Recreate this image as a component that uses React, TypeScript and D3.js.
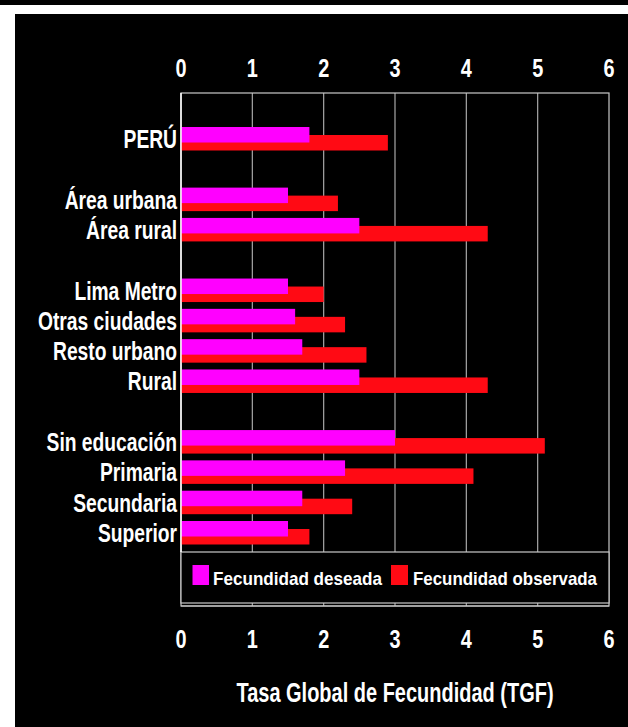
import React from "react";
import * as d3 from "d3";

const categories = [
  "PERÚ",
  "Área urbana",
  "Área rural",
  "Lima Metro",
  "Otras ciudades",
  "Resto urbano",
  "Rural",
  "Sin educación",
  "Primaria",
  "Secundaria",
  "Superior",
];
// slot index for each category (gaps between groups)
const slots = [0, 2, 3, 5, 6, 7, 8, 10, 11, 12, 13];
const deseada = [1.8, 1.5, 2.5, 1.5, 1.6, 1.7, 2.5, 3.0, 2.3, 1.7, 1.5];
const observada = [2.9, 2.2, 4.3, 2.0, 2.3, 2.6, 4.3, 5.1, 4.1, 2.4, 1.8];
const ticks = [0, 1, 2, 3, 4, 5, 6];
const seriesNames = ["Fecundidad deseada", "Fecundidad observada"];
const axisTitle = "Tasa Global de Fecundidad (TGF)";

const W = 628;
const H = 727;
const FONT = "'Liberation Sans', Arial, sans-serif";

function Narrow({
  x,
  y,
  anchor,
  size,
  sx,
  children,
}: {
  x: number;
  y: number;
  anchor: string;
  size: number;
  sx: number;
  children: React.ReactNode;
}) {
  return (
    <text
      transform={`translate(${x},${y}) scale(${sx},1)`}
      textAnchor={anchor}
      fill="#ffffff"
      fontFamily={FONT}
      fontWeight="bold"
      fontSize={size}
    >
      {children}
    </text>
  );
}

export default function App() {
  const x = d3.scaleLinear().domain([0, 6]).range([181, 609]);
  const y = d3.scaleLinear().domain([0, 13]).range([127, 521]);
  const plotTop = 93;
  const legendTop = 552;
  const legendBottom = 603;
  const plotBottom = 606;
  const barH = 15.5;
  const offset = 8;
  const magenta = "#ff00ff";
  const red = "#ff0a14";

  return (
    <svg
      width={W}
      height={H}
      style={{ position: "absolute", left: 0, top: 0 }}
      xmlns="http://www.w3.org/2000/svg"
    >
      <rect x={0} y={0} width={W} height={H} fill="#ffffff" />
      <rect x={0} y={0} width={W} height={5} fill="#000000" />
      <rect x={15} y={14} width={W - 15} height={H - 14} fill="#000000" />

      {/* grid */}
      {ticks.slice(1, -1).map((t) => (
        <line
          key={"g" + t}
          x1={x(t)}
          x2={x(t)}
          y1={plotTop}
          y2={plotBottom}
          stroke="#a8a8a8"
          strokeWidth={1.2}
        />
      ))}
      {/* plot border */}
      <rect
        x={x(0)}
        y={plotTop}
        width={x(6) - x(0)}
        height={plotBottom - plotTop}
        fill="none"
        stroke="#c8c8c8"
        strokeWidth={1.2}
      />

      {/* bars */}
      {categories.map((c, i) => {
        const top = y(slots[i]);
        return (
          <g key={c}>
            <rect
              x={x(0)}
              y={top + offset}
              width={x(observada[i]) - x(0)}
              height={barH}
              fill={red}
            />
            <rect
              x={x(0)}
              y={top}
              width={x(deseada[i]) - x(0)}
              height={barH}
              fill={magenta}
            />
            <Narrow x={177} y={top + 21} anchor="end" size={25} sx={0.77}>
              {c}
            </Narrow>
          </g>
        );
      })}

      {/* legend */}
      <rect
        x={x(0)}
        y={legendTop}
        width={x(6) - x(0)}
        height={legendBottom - legendTop}
        fill="#000000"
        stroke="#c8c8c8"
        strokeWidth={1.2}
      />
      <line x1={x(0)} x2={x(6)} y1={plotBottom} y2={plotBottom} stroke="#c8c8c8" strokeWidth={1.2} />
      <rect x={192.5} y={565} width={16.5} height={20} fill={magenta} />
      <text
        x={213}
        y={585}
        fill="#ffffff"
        fontFamily={FONT}
        fontWeight="bold"
        fontSize={18.5}
        textLength={169}
        lengthAdjust="spacingAndGlyphs"
      >
        {seriesNames[0]}
      </text>
      <rect x={391} y={565} width={17} height={20} fill={red} />
      <text
        x={413}
        y={585}
        fill="#ffffff"
        fontFamily={FONT}
        fontWeight="bold"
        fontSize={18.5}
        textLength={184}
        lengthAdjust="spacingAndGlyphs"
      >
        {seriesNames[1]}
      </text>

      {/* left axis line */}
      <line x1={x(0)} x2={x(0)} y1={plotTop} y2={legendTop} stroke="#ffffff" strokeWidth={1.5} />

      {/* tick labels top and bottom */}
      {ticks.map((t) => (
        <g key={"t" + t}>
          <Narrow x={x(t)} y={76.5} anchor="middle" size={25.5} sx={0.78}>
            {t}
          </Narrow>
          <Narrow x={x(t)} y={648} anchor="middle" size={25.5} sx={0.78}>
            {t}
          </Narrow>
        </g>
      ))}

      <Narrow x={395} y={702} anchor="middle" size={27} sx={0.74}>
        {axisTitle}
      </Narrow>
    </svg>
  );
}
